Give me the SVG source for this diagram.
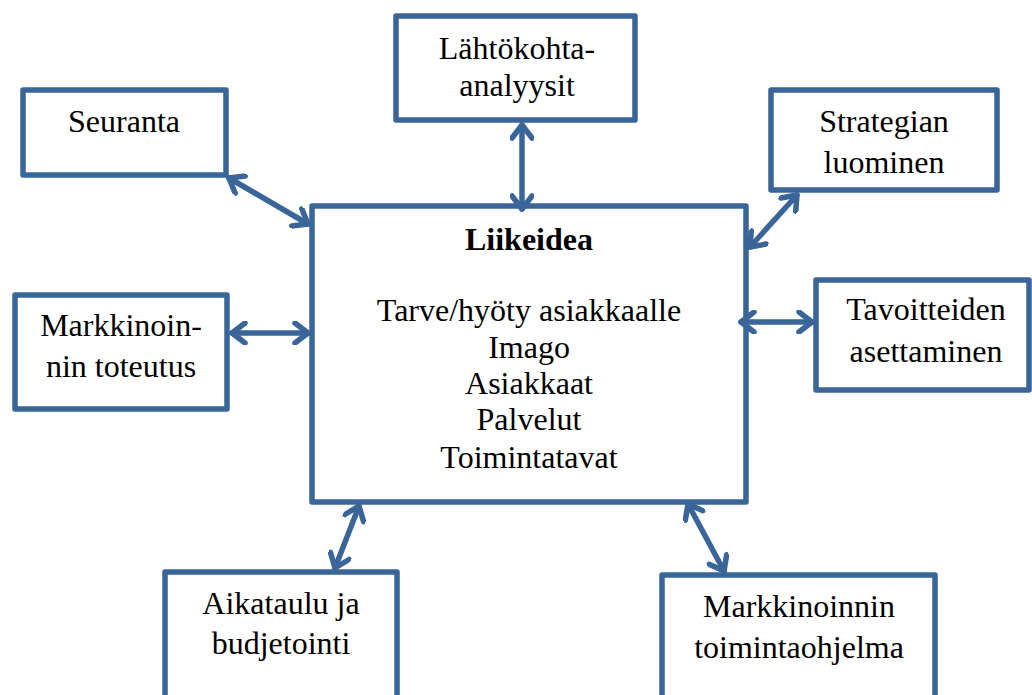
<svg xmlns="http://www.w3.org/2000/svg" width="1032" height="695" viewBox="0 0 1032 695">
<defs>
<style>
.box{fill:#fff;stroke:#3A6598;stroke-width:5.5;stroke-linejoin:round}
.t{font-family:"Liberation Serif","Times New Roman",serif;font-size:32px;fill:#000;text-anchor:middle}
.b{font-weight:bold}
.c{stroke:#3A6598;stroke-width:5.5;fill:none;stroke-linecap:round}
</style>
<marker id="ah" viewBox="-16 -12 20 24" refX="0" refY="0" markerWidth="20" markerHeight="24" markerUnits="userSpaceOnUse" orient="auto-start-reverse">
<path d="M -13 -10 L 0 0 L -13 10" fill="none" stroke="#3A6598" stroke-width="5.5" stroke-linecap="round" stroke-linejoin="round"/>
</marker>
</defs>
<rect width="1032" height="695" fill="#fff"/>
<g id="n-main">
<rect class="box" x="312" y="206" width="434" height="296"/>
<text class="t b" x="529" y="250">Liikeidea</text>
<text class="t" x="529" y="321">Tarve/hyöty asiakkaalle</text>
<text class="t" x="529" y="358">Imago</text>
<text class="t" x="529" y="394">Asiakkaat</text>
<text class="t" x="529" y="430">Palvelut</text>
<text class="t" x="529" y="468">Toimintatavat</text>
</g>
<g id="n-lahto">
<rect class="box" x="396" y="16" width="239" height="104"/>
<text class="t" x="517" y="59">Lähtökohta-</text>
<text class="t" x="517" y="96">analyysit</text>
</g>
<g id="n-seuranta">
<rect class="box" x="23" y="90" width="203" height="85"/>
<text class="t" x="124" y="132">Seuranta</text>
</g>
<g id="n-strategia">
<rect class="box" x="771" y="90" width="226" height="100"/>
<text class="t" x="884" y="132">Strategian</text>
<text class="t" x="884" y="173">luominen</text>
</g>
<g id="n-toteutus">
<rect class="box" x="15" y="295" width="212" height="114"/>
<text class="t" x="121" y="336">Markkinoin-</text>
<text class="t" x="121" y="377">nin toteutus</text>
</g>
<g id="n-tavoitteet">
<rect class="box" x="816" y="280" width="213" height="110"/>
<text class="t" x="926" y="320">Tavoitteiden</text>
<text class="t" x="926" y="362">asettaminen</text>
</g>
<g id="n-aikataulu">
<rect class="box" x="165" y="572" width="232" height="130"/>
<text class="t" x="281" y="614">Aikataulu ja</text>
<text class="t" x="281" y="654">budjetointi</text>
</g>
<g id="n-ohjelma">
<rect class="box" x="662" y="575" width="273" height="130"/>
<text class="t" x="799" y="617">Markkinoinnin</text>
<text class="t" x="799" y="658">toimintaohjelma</text>
</g>
<g id="connectors">
<line class="c" x1="229" y1="178" x2="308" y2="224" marker-start="url(#ah)" marker-end="url(#ah)"/>
<line class="c" x1="522" y1="125" x2="522" y2="209" marker-start="url(#ah)" marker-end="url(#ah)"/>
<line class="c" x1="797" y1="195" x2="750" y2="247" marker-start="url(#ah)" marker-end="url(#ah)"/>
<line class="c" x1="741" y1="322" x2="812" y2="322" marker-start="url(#ah)" marker-end="url(#ah)"/>
<line class="c" x1="232" y1="333" x2="308" y2="333" marker-start="url(#ah)" marker-end="url(#ah)"/>
<line class="c" x1="359" y1="506" x2="335" y2="568" marker-start="url(#ah)" marker-end="url(#ah)"/>
<line class="c" x1="688" y1="504" x2="724" y2="571" marker-start="url(#ah)" marker-end="url(#ah)"/>
</g>
</svg>
